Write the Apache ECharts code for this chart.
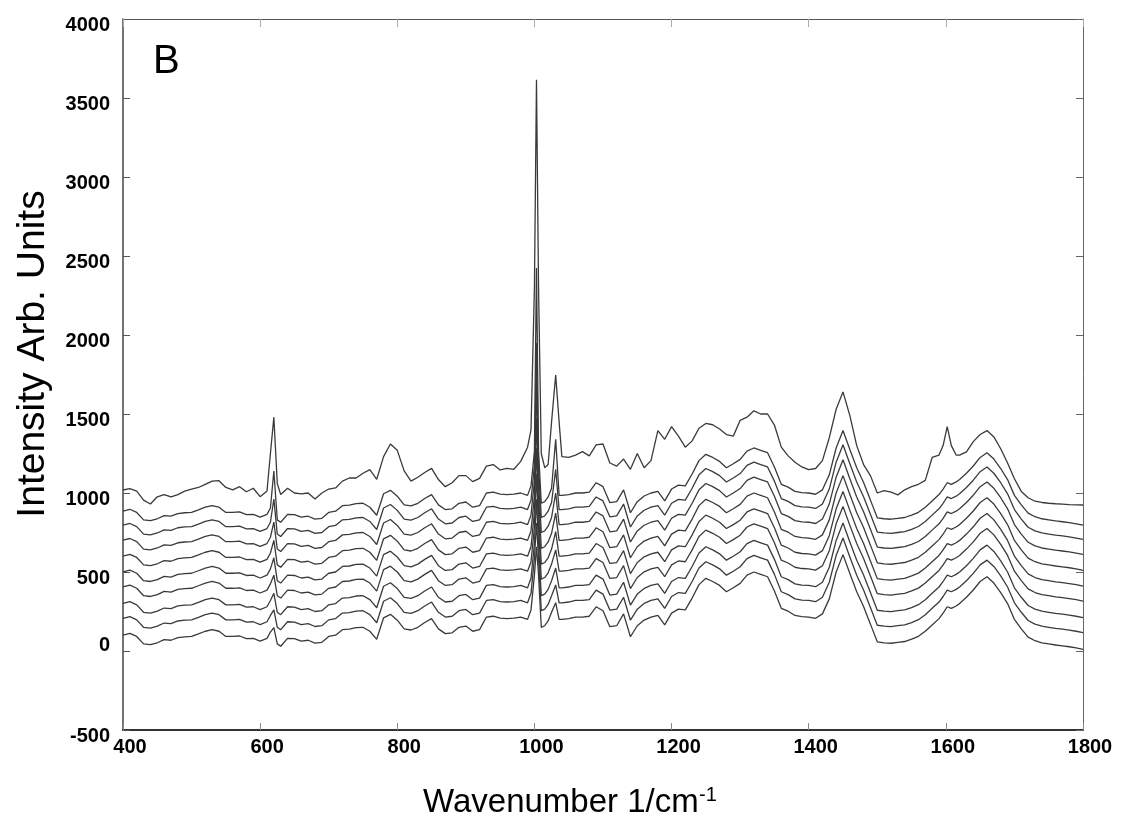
<!DOCTYPE html>
<html>
<head>
<meta charset="utf-8">
<script src="https://cdn.jsdelivr.net/npm/echarts@6/dist/echarts.min.js"></script>
<style>
html,body{margin:0;padding:0;background:#fff;}
#chart{width:1125px;height:829px;}
</style>
</head>
<body>
<div id="chart"></div>
<script>
// Wavenumber sample positions (1/cm)
const wavenumbers = [
  400,410,420,430,440,450,460,470,480,490,500,510,520,530,540,550,560,570,580,590,600,
  610,615,620,625,630,
  640,650,660,670,680,690,700,710,720,730,740,750,760,770,780,790,800,810,820,830,840,850,860,870,880,890,900,910,920,930,940,950,960,970,980,990,
  995,1000,1003,1006,1010,1015,1020,1025,1031,1036,1040,
  1050,1060,1070,1080,1090,1100,1110,1120,1130,1140,1150,1160,1170,1180,1190,1200,1210,1220,1230,1240,1250,1260,1270,1280,1290,1300,1310,1320,1330,1340,1350,1360,1370,1380,1390,1400,1410,1420,1430,1440,1450,1460,1470,1480,1490,1500,1510,1520,1530,1540,1550,1560,1570,1580,1590,
  1596,1602,1608,1615,
  1620,1630,1640,1650,1660,1670,1680,1690,1700,1710,1720,1730,1740,1750,1760,1770,1780,1790,1800
];

// Uppermost spectrum
const topTrace = [
  1019,1028,1012,955,930,976,990,975,990,1012,1025,1035,1055,1075,1078,1035,1020,1040,1008,1030,977,
  1013,1250,1480,1060,990,
  1030,1000,995,1000,962,1000,1025,1032,1075,1095,1095,1125,1148,1087,1230,1310,1270,1140,1075,1100,1130,1156,1085,1040,1065,1110,1110,1072,1093,1170,1180,1146,1156,1150,1200,1290,
  1400,2300,3615,2300,1250,1160,1180,1450,1747,1450,1230,
  1225,1240,1262,1235,1305,1310,1190,1170,1215,1150,1250,1160,1205,1395,1340,1420,1360,1290,1330,1410,1440,1432,1405,1370,1360,1460,1480,1520,1500,1500,1430,1290,1235,1195,1165,1148,1155,1205,1350,1530,1640,1490,1300,1180,1110,1000,1015,1005,988,1020,1040,1055,1080,1225,1240,
  1300,1420,1300,1240,
  1240,1260,1325,1370,1395,1355,1280,1190,1090,1010,970,948,940,935,932,930,927,925,924
];

// Lowest spectrum
const bottomTrace = [
  101,112,92,45,40,52,72,68,85,90,92,108,125,135,125,92,92,95,78,80,62,
  80,120,148,45,30,
  80,78,62,68,50,55,92,100,135,138,148,150,125,74,210,232,195,140,133,150,180,205,140,110,115,150,158,125,135,215,220,208,205,208,215,200,
  260,480,660,480,150,160,190,245,306,200,200,
  205,215,215,220,280,255,154,160,235,90,160,196,215,225,165,240,265,260,335,420,460,440,415,375,400,428,480,500,485,470,380,270,252,225,217,215,207,235,330,500,610,490,375,281,170,58,52,49,55,60,75,93,125,165,205,
  240,280,270,285,
  300,340,386,440,470,430,370,300,200,140,88,65,52,45,38,33,27,20,11
];

// Vertical offsets of the nine lower spectra above the lowest one
const traceOffsets = [0,105,200,305,400,500,600,695,785];
// Band maxima of the nine lower spectra (lowest first)
const peak620  = [148,260,365,480,590,700,816,962,1139];
const peak1003 = [660,810,960,1120,1285,1475,1700,1950,2424];
const peak1031 = [306,418,525,640,755,873,1000,1150,1340];

// Axis ticks
const xTicks = {min:400, max:1800, step:200};
const yTicks = {min:-500, max:4000, step:500};

const FONT = '"Liberation Sans", Arial, Helvetica, sans-serif';
const LINE = '#3a3a3a';

const i620 = wavenumbers.indexOf(620);
const i1003 = wavenumbers.indexOf(1003);
const i1031 = wavenumbers.indexOf(1031);

const series = [];
for (let k = 0; k < traceOffsets.length; k++) {
  const data = wavenumbers.map((w, i) => {
    let v = bottomTrace[i] + traceOffsets[k];
    if (i === i620) v = peak620[k];
    if (i === i1003) v = peak1003[k];
    if (i === i1031) v = peak1031[k];
    return [w, v];
  });
  series.push({type:'line', data, showSymbol:false, symbol:'none', smooth:false,
    lineStyle:{color:LINE, width:1.3}, silent:true, z:2});
}
series.push({type:'line', data: wavenumbers.map((w,i)=>[w, topTrace[i]]), showSymbol:false, symbol:'none',
  smooth:false, lineStyle:{color:LINE, width:1.3}, silent:true, z:3});

const labelBase = {fontFamily:FONT, fontSize:20, fontWeight:'bold', color:'#000'};

const option = {
  animation:false,
  backgroundColor:'#fff',
  grid:{left:123, right:42, top:19, bottom:99, outerBoundsMode:'none', containLabel:false},
  xAxis:[
    {type:'value', min:xTicks.min, max:xTicks.max, interval:xTicks.step, position:'bottom',
     axisLine:{show:true, onZero:false, lineStyle:{color:'#333', width:2}},
     axisTick:{show:true, inside:true, length:7, lineStyle:{color:'#888', width:1}},
     axisLabel:Object.assign({margin:7, padding:[0,0,0,14], formatter: v => String(v)}, labelBase),
     splitLine:{show:false}},
    {type:'value', min:xTicks.min, max:xTicks.max, interval:xTicks.step, position:'top',
     axisLine:{show:true, onZero:false, lineStyle:{color:'#555', width:1}},
     axisTick:{show:true, inside:true, length:8, lineStyle:{color:'#aaa', width:1}},
     axisLabel:{show:false}, splitLine:{show:false}}
  ],
  yAxis:[
    {type:'value', min:yTicks.min, max:yTicks.max, interval:yTicks.step, position:'left',
     axisLine:{show:true, onZero:false, lineStyle:{color:'#444', width:1.5}},
     axisTick:{show:true, inside:true, length:7, lineStyle:{color:'#555', width:1}},
     axisLabel:{margin:13,
       formatter: v => v === 0 ? '{z|0}' : '{n|' + v + '}',
       rich:{
         n:Object.assign({padding:[12,0,0,0]}, labelBase),
         z:Object.assign({padding:[0,0,12,0]}, labelBase)
       }},
     splitLine:{show:false}},
    {type:'value', min:yTicks.min, max:yTicks.max, interval:yTicks.step, position:'right',
     axisLine:{show:true, onZero:false, lineStyle:{color:'#666', width:1}},
     axisTick:{show:true, inside:true, length:7, lineStyle:{color:'#666', width:1}},
     axisLabel:{show:false}, splitLine:{show:false}}
  ],
  graphic:[
    {type:'text', x:153, y:62, style:{text:'B', font:'40px ' + FONT, fill:'#000', textVerticalAlign:'middle'}},
    {type:'text', x:33, y:354, rotation:Math.PI/2,
     style:{text:'Intensity Arb. Units', font:'39px ' + FONT, fill:'#000', textAlign:'center', textVerticalAlign:'middle'}},
    {type:'text', x:423, y:803,
     style:{text:'Wavenumber 1/cm', font:'33px ' + FONT, fill:'#000', textAlign:'left', textVerticalAlign:'middle'}},
    {type:'text', x:699, y:795,
     style:{text:'-1', font:'20px ' + FONT, fill:'#000', textAlign:'left', textVerticalAlign:'middle'}}
  ],
  series
};

const chart = echarts.init(document.getElementById('chart'), null, {renderer:'canvas'});
chart.setOption(option);
</script>
</body>
</html>
